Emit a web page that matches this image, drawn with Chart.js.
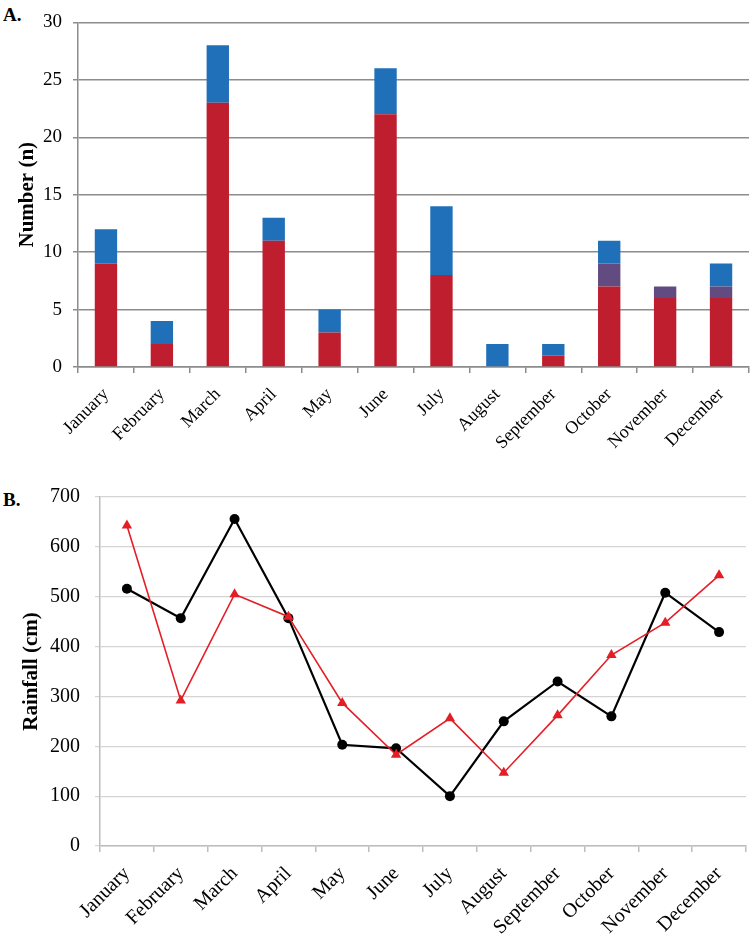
<!DOCTYPE html>
<html>
<head>
<meta charset="utf-8">
<script src="https://cdn.jsdelivr.net/npm/chart.js@4.4.1/dist/chart.umd.min.js"></script>
<style>
  body { margin: 0; background: #fff; width: 752px; height: 938px; position: relative; overflow: hidden; }
  .panel { position: absolute; left: 0; }
  .letra { position: absolute; left: 3px; font: bold 19px "Liberation Serif", serif; color: #000; }
</style>
</head>
<body>
<div class="letra" style="top:4px">A.</div>
<div class="panel" style="top:0"><canvas id="plot1" width="752" height="470"></canvas></div>
<div class="letra" style="top:489px">B.</div>
<div class="panel" style="top:470px"><canvas id="plot2" width="752" height="468"></canvas></div>
<script>
// meses
let meses = ['January', 'February', 'March', 'April', 'May', 'June', 'July', 'August', 'September', 'October', 'November', 'December'];

// panel A: barras apiladas
let rojoArr = [9, 2, 23, 11, 3, 22, 8, 0, 1, 7, 6, 6];
let moradoArr = [0, 0, 0, 0, 0, 0, 0, 0, 0, 2, 1, 1];
let azulArr = [3, 2, 5, 2, 2, 4, 6, 2, 1, 2, 0, 2];

// panel B: lluvia
let lluviaNegraArr = [516, 457, 656, 457, 203, 196, 100, 250, 330, 260, 508, 429];
let lluviaRojaArr = [643, 292, 505, 460, 287, 183, 256, 147, 262, 383, 448, 543];

let serif = '"Liberation Serif", "Times New Roman", serif';
Chart.defaults.font.family = serif;
Chart.defaults.color = '#000';

// fija el ancho/alto de un eje
let fijar = (n) => (scale) => { if (scale.isHorizontal()) scale.height = n; else scale.width = n; };

let plotRef1 = document.getElementById('plot1');
let config1 = {
  type: 'bar',
  data: {
    labels: meses,
    datasets: [
      { label: 'Series 1', data: rojoArr, backgroundColor: 'rgb(190, 30, 45)' },
      { label: 'Series 2', data: moradoArr, backgroundColor: 'rgb(98, 75, 128)' },
      { label: 'Series 3', data: azulArr, backgroundColor: 'rgb(31, 112, 185)' }
    ]
  },
  options: {
    responsive: false,
    animation: false,
    layout: { padding: { top: 10, right: 3, left: 0, bottom: 0 } },
    datasets: { bar: { categoryPercentage: 1, barPercentage: 0.4 } },
    plugins: { legend: { display: false }, tooltip: { enabled: false } },
    scales: {
      x: {
        stacked: true,
        afterFit: fijar(103),
        border: { color: '#8c8c8c', width: 1.5 },
        grid: { offset: true, drawOnChartArea: false, drawTicks: true, tickLength: 6, color: '#8c8c8c', lineWidth: 1.5 },
        ticks: { autoSkip: false, minRotation: 45, maxRotation: 45, padding: 11, font: { size: 18 } }
      },
      y: {
        stacked: true,
        min: 0,
        max: 30,
        afterFit: fijar(78),
        border: { color: '#8c8c8c', width: 1.5 },
        grid: { color: '#8c8c8c', lineWidth: 1.5, tickLength: 5 },
        ticks: { stepSize: 5, padding: 11, font: { size: 19 } },
        title: { display: true, text: 'Number (n)', font: { size: 21, weight: 'bold' }, padding: { top: 15, bottom: 0 } }
      }
    }
  }
};
let chart1 = new Chart(plotRef1, config1);

let plotRef2 = document.getElementById('plot2');
let config2 = {
  type: 'line',
  data: {
    labels: meses,
    datasets: [
      {
        label: 'Rojo',
        data: lluviaRojaArr,
        borderColor: 'rgb(228, 30, 38)',
        backgroundColor: 'rgb(228, 30, 38)',
        borderWidth: 1.6,
        pointStyle: 'triangle',
        pointRadius: 6,
        pointBorderWidth: 0,
        tension: 0
      },
      {
        label: 'Negro',
        data: lluviaNegraArr,
        borderColor: '#000',
        backgroundColor: '#000',
        borderWidth: 2.2,
        pointStyle: 'circle',
        pointRadius: 5,
        pointBorderWidth: 0,
        tension: 0
      }
    ]
  },
  options: {
    responsive: false,
    animation: false,
    layout: { padding: { top: 23, right: 5, left: 0, bottom: 0 } },
    plugins: { legend: { display: false }, tooltip: { enabled: false } },
    scales: {
      x: {
        offset: true,
        afterFit: fijar(92),
        border: { color: '#bdbdbd', width: 1.5 },
        grid: { offset: true, drawOnChartArea: false, drawTicks: true, tickLength: 6, color: '#bdbdbd', lineWidth: 1.5 },
        ticks: { autoSkip: false, minRotation: 45, maxRotation: 45, padding: 10, font: { size: 20 } }
      },
      y: {
        min: 0,
        max: 700,
        afterFit: fijar(100),
        border: { color: '#bdbdbd', width: 1.5 },
        grid: { color: '#d4d4d4', lineWidth: 1.2, tickLength: 5 },
        ticks: { stepSize: 100, padding: 15, font: { size: 20 } },
        title: { display: true, text: 'Rainfall (cm)', font: { size: 21, weight: 'bold' }, padding: { top: 19, bottom: 0 } }
      }
    }
  }
};
let chart2 = new Chart(plotRef2, config2);
</script>
</body>
</html>
